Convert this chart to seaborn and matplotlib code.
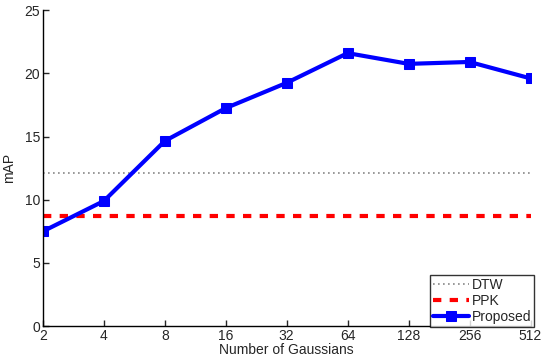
import numpy as np
import pandas as pd
import matplotlib
matplotlib.use("Agg")
import matplotlib.pyplot as plt
import seaborn as sns

# --- data ---
n_gaussians = [2, 4, 8, 16, 32, 64, 128, 256, 512]
proposed = [7.5, 9.9, 14.65, 17.25, 19.25, 21.6, 20.75, 20.9, 19.6]
dtw_map = 12.1
ppk_map = 8.75

sns.set_style("white")
plt.rcParams['font.family'] = ['Liberation Sans', 'DejaVu Sans']

df = pd.DataFrame({"gauss": n_gaussians, "mAP": proposed})

fig = plt.figure(figsize=(5.43, 3.62), dpi=100)
ax = fig.add_axes([0.079, 0.099, 0.898, 0.873])

ax.plot([2, 512], [dtw_map, dtw_map], color="#888888", linestyle=(0, (1, 2)),
        linewidth=1.2, label="DTW")
ax.plot([2, 512], [ppk_map, ppk_map], color="red", linestyle=(0, (2, 2)),
        linewidth=3, label="PPK")
sns.lineplot(data=df, x="gauss", y="mAP", ax=ax, color="blue", linewidth=3,
             marker="s", markersize=6.5, markeredgecolor="blue", label="Proposed")

ax.set_xscale("log", base=2)
ax.set_xlim(2, 512)
ax.set_ylim(0, 25)
ax.set_xticks(n_gaussians)
ax.set_xticklabels([str(g) for g in n_gaussians])
ax.set_yticks([0, 5, 10, 15, 20, 25])
ax.minorticks_off()
ax.tick_params(direction="in", length=4, width=1, labelsize=10, pad=2,
               bottom=True, left=True)
for s in ["top", "right"]:
    ax.spines[s].set_visible(False)
for s in ["left", "bottom"]:
    ax.spines[s].set_color("black")
    ax.spines[s].set_linewidth(1)

ax.set_xlabel("Number of Gaussians", fontsize=10, labelpad=0)
ax.set_ylabel("mAP", fontsize=10, labelpad=6)

leg = ax.legend(loc="lower right", bbox_to_anchor=(1.008, -0.002), fontsize=10,
                frameon=True, fancybox=False, edgecolor="black",
                handlelength=2.6, handletextpad=0.2, borderpad=0.2,
                labelspacing=0.15, borderaxespad=0)
leg.get_frame().set_linewidth(1)

fig.savefig("out.png", dpi=100)
